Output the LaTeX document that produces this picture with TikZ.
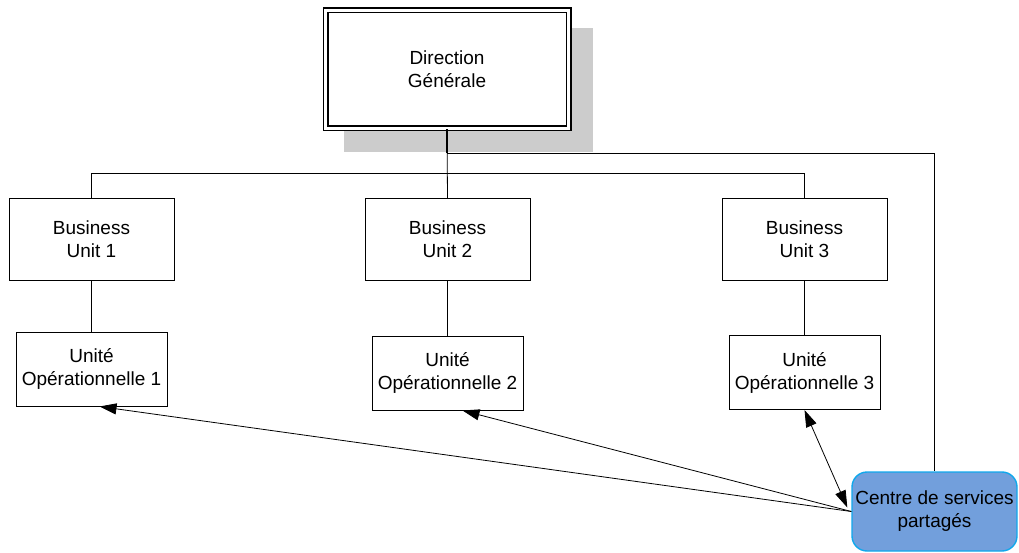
\documentclass[tikz,border=0pt]{standalone}
\usepackage{fontspec}
\setmainfont{Liberation Sans}
\usetikzlibrary{arrows.meta,positioning}

\definecolor{shadowgray}{HTML}{CCCCCC}
\definecolor{cspfill}{HTML}{729FDC}
\definecolor{cspdraw}{HTML}{10A8EC}

\begin{document}
\begin{tikzpicture}[x=1pt,y=-1pt,>={Triangle[length=17pt,width=11pt]},
                    every node/.style={font=\fontsize{19}{23}\selectfont,align=center},
                    semithick]
  \tikzset{unit/.style={draw,line width=1pt,minimum width=165pt,minimum height=81pt,inner sep=0pt},
           ope/.style={draw,line width=1pt,minimum width=151pt,minimum height=74pt,inner sep=0pt},
           link/.style={line width=0.8pt}}
  \useasboundingbox (0,0) rectangle (1019,553);

  % shadow of the top box
  \fill[shadowgray] (344,28) rectangle (593,152);

  \node[draw,double,double distance=3pt,line width=1.5pt,fill=white,
        minimum width=243pt,minimum height=118pt,inner sep=0pt] (dg) at (447,69.5) {Direction\\Générale};

  \node[unit] (bu1) at (91.5,239.5)  {Business\\Unit 1};
  \node[unit] (bu2) at (447.5,239.5) {Business\\Unit 2};
  \node[unit] (bu3) at (804.5,239.5) {Business\\Unit 3};

  \node[ope] (uo1) at (91.5,369)   {Unité\\Opérationnelle 1};
  \node[ope] (uo2) at (447.5,373)  {Unité\\Opérationnelle 2};
  \node[ope] (uo3) at (804.5,372.5) {Unité\\Opérationnelle 3};

  \node[draw=cspdraw,fill=cspfill,line width=1.4pt,rounded corners=15pt,
        minimum width=165pt,minimum height=79pt,inner sep=0pt] (csp) at (934.5,511.5) {Centre de services\\partagés};

  \draw[line width=1.4pt] (dg.south) -- ++(0,24);
  \draw[link] (dg.south) -- (bu2.north);
  \draw[link] (bu1.north) -- ++(0,-25) -| (bu3.north);
  \draw[link] ([yshift=-24pt]dg.south) -| (csp.north);
  \draw[link] (bu1) -- (uo1);
  \draw[link] (bu2) -- (uo2);
  \draw[link] (bu3) -- (uo3);

  \draw[->,link] (csp.west) -- ([xshift=8pt]uo1.south);
  \draw[->,link] (csp.west) -- ([xshift=15pt]uo2.south);
  \draw[<->,link] ([shift={(-4pt,4pt)}]csp.west) -- (uo3.south);
\end{tikzpicture}
\end{document}
